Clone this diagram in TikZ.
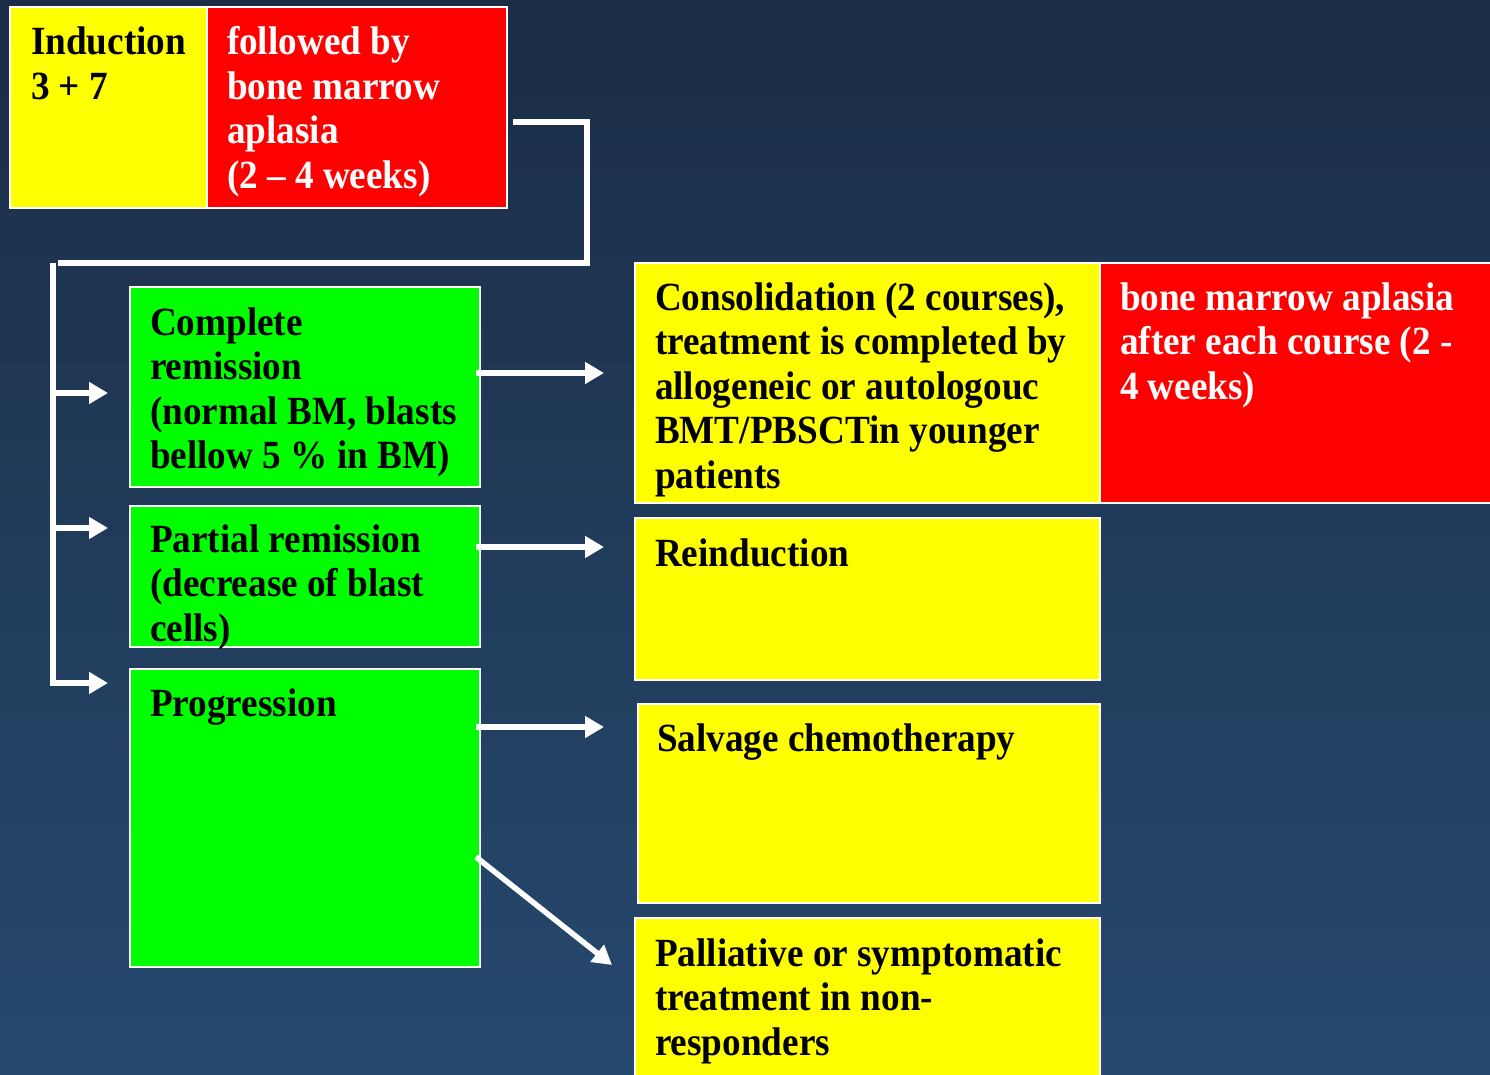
\documentclass[tikz,border=0pt]{standalone}
\usepackage{fontspec}
\setmainfont{Liberation Serif}[FakeStretch=0.93]
\usetikzlibrary{arrows.meta}
\definecolor{bgtop}{RGB}{27,45,70}
\definecolor{bgbot}{RGB}{38,73,110}
\definecolor{yel}{RGB}{255,255,0}
\definecolor{rd}{RGB}{255,0,0}
\definecolor{grn}{RGB}{0,255,0}
\newcommand\mylines[1]{\begin{tabular}[t]{@{}l@{}}#1\end{tabular}}
\begin{document}
\begin{tikzpicture}[x=1pt,y=-1pt,
  box/.style={draw=white, line width=2pt, inner sep=0pt, outer sep=0pt, anchor=north west},
  txt/.style={inner sep=0pt, outer sep=0pt, anchor=base west, font=\fontsize{40}{44.5}\selectfont\bfseries},
  wline/.style={draw=white, line width=5.5pt},
  warrow/.style={wline, -{Triangle[length=19pt,width=21pt]}}]
\useasboundingbox (0,0) rectangle (1490,1075);
\fill[top color=bgtop, bottom color=bgbot] (0,0) rectangle (1490,1075);

% boxes
\node[box, fill=yel, minimum width=197pt, minimum height=201pt] (ind) at (10,7) {};
\node[box, fill=rd, minimum width=300pt, minimum height=201pt] (redA) at (207,7) {};
\node[box, fill=grn, minimum width=350pt, minimum height=200pt] (cr) at (130,287) {};
\node[box, fill=grn, minimum width=350pt, minimum height=141pt] (pr) at (130,506) {};
\node[box, fill=grn, minimum width=350pt, minimum height=298pt] (prog) at (130,669) {};
\node[box, fill=yel, minimum width=465pt, minimum height=240pt] (cons) at (635,263) {};
\node[box, fill=rd, minimum width=392pt, minimum height=240pt] (redB) at (1100,263) {};
\node[box, fill=yel, minimum width=465pt, minimum height=162pt] (reind) at (635,518) {};
\node[box, fill=yel, minimum width=462pt, minimum height=199pt] (salv) at (638,704) {};
\node[box, fill=yel, minimum width=465pt, minimum height=175pt] (pall) at (635,918) {};

% texts
\node[txt] (indt) at (31,55) {\mylines{Induction\\3 + 7}};
\node[txt, text=white] (redAt) at (227,55) {\mylines{followed by\\bone marrow\\aplasia\\(2 – 4 weeks)}};
\node[txt] (crt) at (150,335) {\mylines{Complete\\remission\\(normal BM, blasts\\bellow 5 \% in BM)}};
\node[txt] (prt) at (150,552) {\mylines{Partial remission\\(decrease of blast\\cells)}};
\node[txt] (progt) at (150,716) {Progression};
\node[txt] (const) at (655,310) {\mylines{Consolidation (2 courses),\\treatment is completed by\\allogeneic or autologouc\\BMT/PBSCTin younger\\patients}};
\node[txt, text=white] (redBt) at (1120,310) {\mylines{bone marrow aplasia\\after each course (2 -\\4 weeks)}};
\node[txt] (reindt) at (655,566) {Reinduction};
\node[txt] (salvt) at (657,751) {Salvage chemotherapy};
\node[txt] (pallt) at (655,966) {\mylines{Palliative or symptomatic\\treatment in non-\\responders}};

% connector coordinates
\coordinate (c0) at (513,122);
\coordinate (c1) at (587,122);
\coordinate (c2) at (587,263);
\coordinate (c3) at (58,263);
\coordinate (v0) at (53,263);
\coordinate (v1) at (53,393);
\coordinate (v2) at (53,528);
\coordinate (v3) at (53,683);
\coordinate (t1) at (108,393);
\coordinate (t2) at (108,528);
\coordinate (t3) at (108,683);
\coordinate (r1) at (476,373);
\coordinate (e1) at (604,373);
\coordinate (r2) at (476,547);
\coordinate (e2) at (604,547);
\coordinate (r3) at (476,727);
\coordinate (e3) at (604,727);
\coordinate (r4) at (476,857);
\coordinate (e4) at (612,965);

\draw[wline] (c0) -- (c1) -- (c2) -- (c3);
\draw[wline] (v0) -- (v3);
\draw[warrow] (v1) -- (t1);
\draw[warrow] (v2) -- (t2);
\draw[warrow] ([xshift=-2.75pt]v3) -- (t3);
\draw[warrow] (r1) -- (e1);
\draw[warrow] (r2) -- (e2);
\draw[warrow] (r3) -- (e3);
\draw[warrow] (r4) -- (e4);
\end{tikzpicture}
\end{document}
